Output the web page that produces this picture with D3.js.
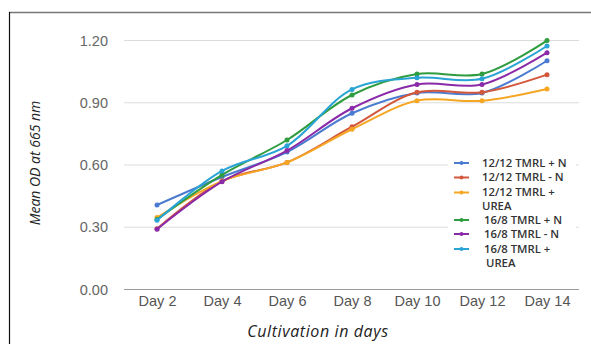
<!DOCTYPE html>
<html><head><meta charset="utf-8">
<script src="https://cdn.jsdelivr.net/npm/d3@7"></script>
<style>body{margin:0;background:#fff;}svg{display:block;}</style>
</head><body>
<svg id="c" width="591" height="344"></svg>
<script>
const categories = ["Day 2","Day 4","Day 6","Day 8","Day 10","Day 12","Day 14"];
const yTicks = [0, 0.30, 0.60, 0.90, 1.20];
const seriesNames = ["12/12 TMRL + N","12/12 TMRL - N","12/12 TMRL + UREA","16/8 TMRL + N","16/8 TMRL - N","16/8 TMRL + UREA"];
const legendLines = [["12/12 TMRL + N"],["12/12 TMRL - N"],["12/12 TMRL +","UREA"],["16/8 TMRL + N"],["16/8 TMRL - N"],["16/8 TMRL +","UREA"]];
const colors = ["#4a7bd0","#d2573b","#f5a623","#2e9c3f","#8a2aa8","#2aa3d5"];
const s1 = [0.405, 0.54, 0.66, 0.847, 0.945, 0.945, 1.10];
const s2 = [0.29, 0.52, 0.61, 0.782, 0.948, 0.948, 1.033];
const s3 = [0.344, 0.52, 0.61, 0.77, 0.907, 0.907, 0.964];
const s4 = [0.335, 0.55, 0.718, 0.935, 1.036, 1.036, 1.197];
const s5 = [0.288, 0.517, 0.667, 0.871, 0.986, 0.986, 1.139];
const s6 = [0.331, 0.569, 0.69, 0.962, 1.018, 1.013, 1.171];
const series = [s1,s2,s3,s4,s5,s6];

const svg = d3.select("#c");
// frame
svg.append("line").attr("x1",9).attr("x2",591).attr("y1",12.5).attr("y2",12.5).attr("stroke","#777").attr("stroke-width",1.5);
svg.append("line").attr("x1",9.5).attr("x2",9.5).attr("y1",12).attr("y2",344).attr("stroke","#111").attr("stroke-width",1.2);

const x = d3.scalePoint().domain(categories).range([157,547]);
const y = d3.scaleLinear().domain([0,1.2]).range([289,40]);

// gridlines
svg.append("g").selectAll("line").data(yTicks.filter(d=>d>0)).join("line")
  .attr("x1",124).attr("x2",579).attr("y1",d=>y(d)+0.5).attr("y2",d=>y(d)+0.5)
  .attr("stroke","#dcdcdc").attr("stroke-width",1);
svg.append("line").attr("x1",124).attr("x2",579).attr("y1",y(0)+0.5).attr("y2",y(0)+0.5)
  .attr("stroke","#9a9a9a").attr("stroke-width",1.2);

// y tick labels
const yAxis = d3.axisLeft(y).tickValues(yTicks).tickFormat(d3.format(".2f")).tickSize(0).tickPadding(0);
const gy = svg.append("g").attr("transform","translate(108,0)").call(yAxis);
gy.select(".domain").remove();
gy.selectAll("text").attr("font-family","Liberation Sans, Arial, sans-serif").attr("font-size",14.5).attr("fill","#666").attr("dy","0.35em");

// x tick labels
const xAxis = d3.axisBottom(x).tickSize(0).tickPadding(0);
const gx = svg.append("g").attr("transform","translate(0,296)").call(xAxis);
gx.select(".domain").remove();
gx.selectAll("text").attr("font-family","Liberation Sans, Arial, sans-serif").attr("font-size",14.5).attr("fill","#555").attr("dy","0.71em");

// axis titles
svg.append("text").attr("x",318).attr("y",337).attr("text-anchor","middle")
  .attr("font-family","Open Sans, sans-serif").attr("font-style","italic").attr("font-size",16)
  .attr("letter-spacing","0.6").attr("fill","#222").text("Cultivation in days");
svg.append("text").attr("transform","translate(40,163) rotate(-90)").attr("text-anchor","middle")
  .attr("font-family","Open Sans, sans-serif").attr("font-style","italic").attr("font-size",14)
  .attr("fill","#222").text("Mean OD at 665 nm");

// lines
const line = d3.line().x((d,i)=>x(categories[i])).y(d=>y(d)).curve(d3.curveCatmullRom.alpha(0.5));
const g = svg.append("g");
series.forEach((s,k)=>{
  g.append("path").attr("d",line(s)).attr("fill","none").attr("stroke",colors[k]).attr("stroke-width",2);
  g.selectAll(null).data(s).join("circle").attr("cx",(d,i)=>x(categories[i])).attr("cy",d=>y(d)).attr("r",2.5).attr("fill",colors[k]);
});

// legend
const lg = svg.append("g");
lg.append("rect").attr("x",448).attr("y",155).attr("width",128).attr("height",116).attr("fill","#fff");
const rowY = [163, 177.5, 192.5, 220, 234, 249];
legendLines.forEach((lines,k)=>{
  const yy = rowY[k];
  lg.append("line").attr("x1",454).attr("x2",469).attr("y1",yy).attr("y2",yy).attr("stroke",colors[k]).attr("stroke-width",2);
  lg.append("circle").attr("cx",461.5).attr("cy",yy).attr("r",2).attr("fill",colors[k]);
  const tx = k>=3 ? 484 : 482;
  lines.forEach((t,j)=>{
    lg.append("text").attr("x", j===0 ? tx : (k===5?486:482)).attr("y",yy + j*14).attr("dy","0.35em")
      .attr("font-family","Open Sans, sans-serif").attr("font-size",11.3).attr("font-weight",600)
      .attr("fill","#333").text(t);
  });
});
</script>
</body></html>
